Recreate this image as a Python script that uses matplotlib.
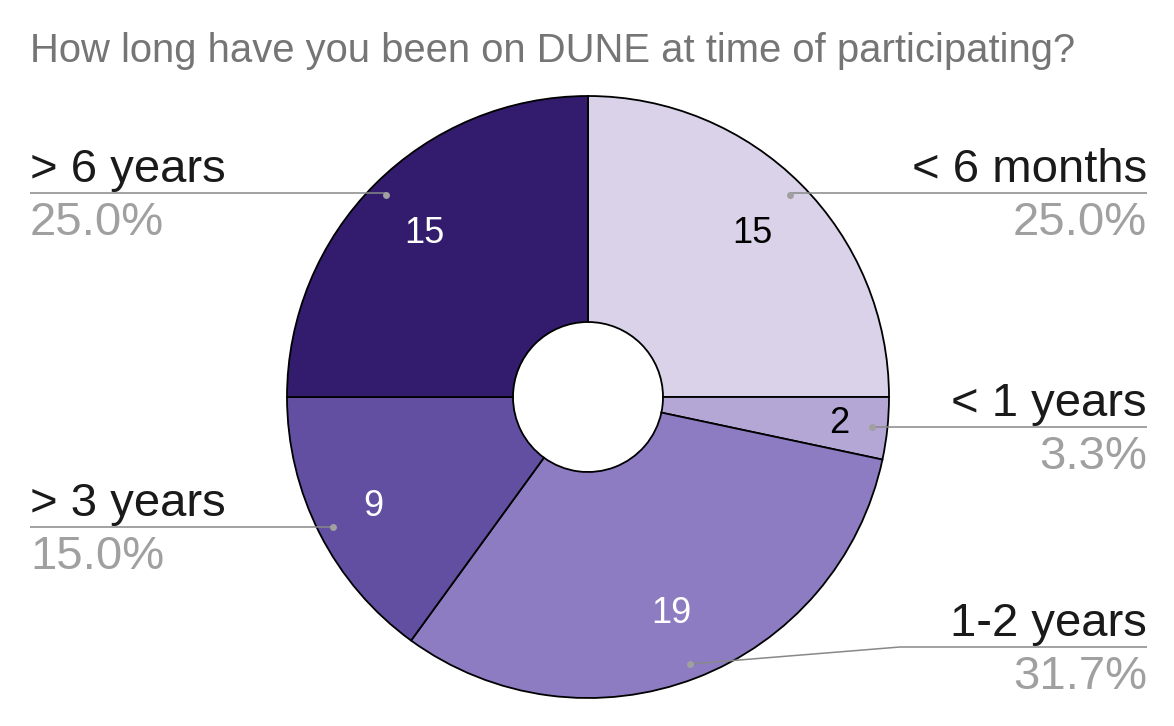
import numpy as np
import matplotlib
matplotlib.use("Agg")
import matplotlib.pyplot as plt

# ---- data ----
categories = ["< 6 months", "< 1 years", "1-2 years", "> 3 years", "> 6 years"]
values = [15, 2, 19, 9, 15]
colors = ["#d9d2e9", "#b4a7d6", "#8e7cc3", "#634fa2", "#331b6e"]
value_text_colors = ["black", "black", "white", "white", "white"]
title = "How long have you been on DUNE at time of participating?"

W, H = 1174, 726
fig = plt.figure(figsize=(W / 100, H / 100), dpi=100)
ax = fig.add_axes([0, 0, 1, 1])
plt.rcParams["font.family"] = ["Liberation Sans", "DejaVu Sans"]

cx, cy = 588, H - 397
R, r_hole = 301, 75

wedges, _ = ax.pie(values, colors=colors, startangle=90, counterclock=False,
                   radius=R, center=(cx, cy),
                   wedgeprops=dict(width=R - r_hole, edgecolor="black", linewidth=1.3))
ax.set_xlim(0, W)
ax.set_ylim(0, H)
ax.set_aspect("equal")
ax.axis("off")

total = sum(values)
# label layout: side, y of leader line (pixels from top), elbow
layout = {
    "< 6 months": ("right", 193, None),
    "< 1 years": ("right", 427, None),
    "1-2 years": ("right", 647, 900),
    "> 3 years": ("left", 527, None),
    "> 6 years": ("left", 193, None),
}
line_col = "#888888"
pct_col = "#a0a0a0"
lab_fs = 34
for w, cat, v, tc in zip(wedges, categories, values, value_text_colors):
    ang = np.deg2rad((w.theta1 + w.theta2) / 2)
    frac = v / total
    rl = 0.84 if frac < 0.05 else (0.8 if frac < 0.2 else 0.77)
    ax.text(cx + rl * R * np.cos(ang), cy + rl * R * np.sin(ang), str(v),
            ha="center", va="center", fontsize=26, color=tc)
    # leader
    dx, dy = cx + 0.95 * R * np.cos(ang), cy + 0.95 * R * np.sin(ang)
    side, ly, elbow = layout[cat]
    ly = H - ly
    if side == "right":
        xe = 1147
        xs = [dx, elbow, xe] if elbow else [dx, xe]
        ys = [dy, ly, ly] if elbow else [ly, ly]
        ha, tx = "right", xe
    else:
        xe = 30
        xs, ys = [dx, xe], [ly, ly]
        ha, tx = "left", xe
    ax.plot(xs, ys, color=line_col, lw=1.1, solid_capstyle="butt", zorder=3)
    ax.plot([dx], [dy], "o", ms=5, color="#a0a0a0", mec="none", zorder=4)
    ax.text(tx, ly + 11, cat, ha=ha, va="baseline", fontsize=lab_fs, color="#1a1a1a")
    ax.text(tx, ly - 42, f"{100 * v / total:.1f}%", ha=ha, va="baseline",
            fontsize=lab_fs, color=pct_col)

ax.text(30, H - 62, title, ha="left", va="baseline", fontsize=28.8, color="#757575")

fig.savefig("out.png", dpi=100)
